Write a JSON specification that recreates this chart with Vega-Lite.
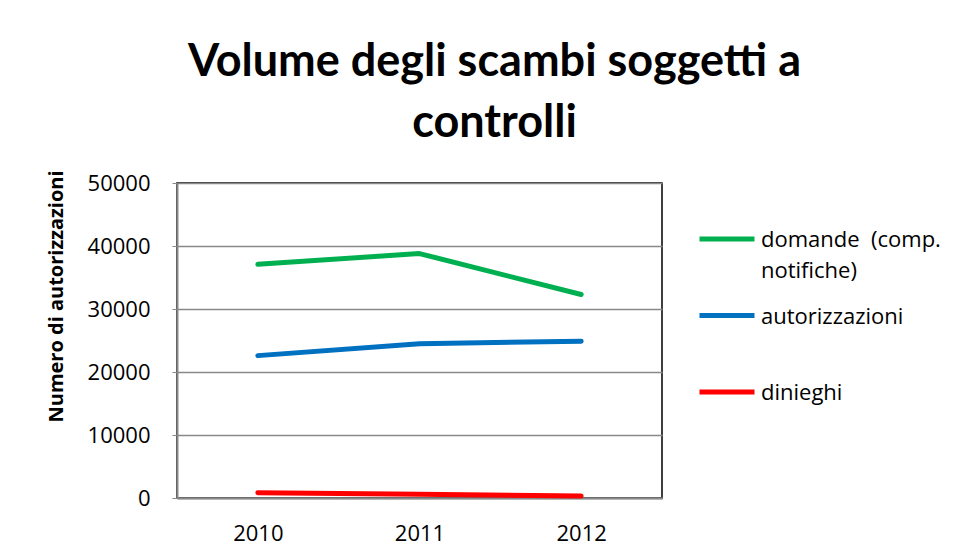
{
  "$schema": "https://vega.github.io/schema/vega-lite/v6.json",
  "autosize": "none",
  "width": 485,
  "height": 315,
  "padding": {"left": 177, "top": 183, "right": 303, "bottom": 60},
  "background": "white",
  "title": {
    "text": ["Volume degli scambi soggetti a", "controlli"],
    "font": "Lato",
    "fontSize": 45,
    "fontWeight": "bold",
    "color": "black",
    "anchor": "middle",
    "dx": 75,
    "lineHeight": 61,
    "offset": 24
  },
  "data": {
    "values": [
      {"anno": "2010", "serie": "domande  (comp. notifiche)", "valore": 37100},
      {"anno": "2011", "serie": "domande  (comp. notifiche)", "valore": 38800},
      {"anno": "2012", "serie": "domande  (comp. notifiche)", "valore": 32300},
      {"anno": "2010", "serie": "autorizzazioni", "valore": 22600},
      {"anno": "2011", "serie": "autorizzazioni", "valore": 24500},
      {"anno": "2012", "serie": "autorizzazioni", "valore": 24900},
      {"anno": "2010", "serie": "dinieghi", "valore": 840},
      {"anno": "2011", "serie": "dinieghi", "valore": 590},
      {"anno": "2012", "serie": "dinieghi", "valore": 320}
    ]
  },
  "mark": {"type": "line", "strokeWidth": 5, "strokeCap": "round", "strokeJoin": "round"},
  "encoding": {
    "x": {
      "field": "anno",
      "type": "ordinal",
      "scale": {"type": "point", "padding": 0.5},
      "axis": {
        "title": null,
        "labelAngle": 0,
        "labelFont": "Open Sans",
        "labelFontSize": 22,
        "labelColor": "black",
        "labelPadding": 25,
        "ticks": false,
        "domainColor": "#898989",
        "domainWidth": 2
      }
    },
    "y": {
      "field": "valore",
      "type": "quantitative",
      "scale": {"domain": [0, 50000]},
      "axis": {
        "title": "Numero di autorizzazioni",
        "titleFont": "Open Sans",
        "titleFontSize": 20,
        "titleFontWeight": "bold",
        "titleColor": "black",
        "titlePadding": 21,
        "titleY": 113,
        "values": [0, 10000, 20000, 30000, 40000, 50000],
        "format": "d",
        "labelFont": "Open Sans",
        "labelFontSize": 22,
        "labelColor": "black",
        "labelPadding": 22,
        "tickColor": "#898989",
        "tickSize": 5,
        "domainColor": "#898989",
        "domainWidth": 2,
        "gridColor": "#898989",
        "gridWidth": 1.5
      }
    },
    "color": {
      "field": "serie",
      "type": "nominal",
      "sort": ["domande  (comp. notifiche)", "autorizzazioni", "dinieghi"],
      "scale": {
        "domain": ["domande  (comp. notifiche)", "autorizzazioni", "dinieghi"],
        "range": ["#00B050", "#0070C0", "#FF0000"]
      },
      "legend": {
        "title": null,
        "orient": "none",
        "legendX": 520,
        "legendY": 26,
        "gridAlign": "all",
        "symbolType": "stroke",
        "symbolSize": 3025,
        "symbolStrokeWidth": 5,
        "labelFont": "Open Sans",
        "labelFontSize": 22,
        "labelColor": "black",
        "labelLimit": 300,
        "labelOffset": 4,
        "labelBaseline": "alphabetic",
        "rowPadding": 3.5,
        "labelExpr": "datum.label == 'domande  (comp. notifiche)' ? ['domande\u00a0 (comp.', 'notifiche)'] : datum.label",
        "encode": {"labels": {"update": {"dy": {"value": 8}, "lineHeight": {"value": 31}}}}
      }
    }
  },
  "config": {
    "view": {"stroke": "black", "strokeWidth": 1.5},
    "axis": {"gridDash": []}
  }
}
